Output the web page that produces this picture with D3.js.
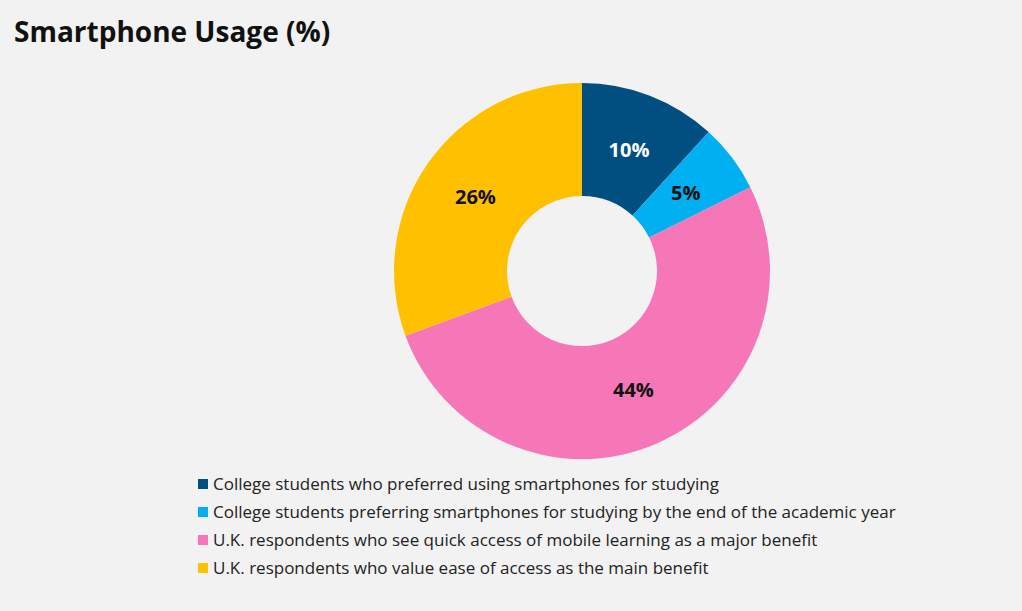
<!DOCTYPE html>
<html>
<head>
<meta charset="utf-8">
<script src="https://cdn.jsdelivr.net/npm/d3@7"></script>
<style>
  body { margin: 0; background: #f2f2f2; }
  text { font-family: "Open Sans", Lato, sans-serif; }
</style>
</head>
<body>
<div id="chart"></div>
<script>
var categories = [
  "College students who preferred using smartphones for studying",
  "College students preferring smartphones for studying by the end of the academic year",
  "U.K. respondents who see quick access of mobile learning as a major benefit",
  "U.K. respondents who value ease of access as the main benefit"
];
var values = [10, 5, 44, 26];
var colors = ["#004f80", "#00b0f0", "#f577b8", "#ffc000"];
var labelColors = ["#ffffff", "#111111", "#111111", "#111111"];

var width = 1022, height = 611;
var cx = 582, cy = 271, outerR = 188, innerR = 75, labelR = 130;

var svg = d3.select("#chart").append("svg")
    .attr("width", width).attr("height", height);

svg.append("rect").attr("width", width).attr("height", height).attr("fill", "#f2f2f2");

svg.append("text")
    .attr("x", 14).attr("y", 42)
    .attr("font-size", 28).attr("font-weight", "bold").attr("fill", "#111")
    .text("Smartphone Usage (%)");

var data = categories.map(function(c, i) { return { name: c, value: values[i], i: i }; });

var pie = d3.pie().sort(null).value(function(d) { return d.value; });
var arc = d3.arc().innerRadius(innerR).outerRadius(outerR);
var labelArc = d3.arc().innerRadius(labelR).outerRadius(labelR);

var g = svg.append("g").attr("transform", "translate(" + cx + "," + cy + ")");

var arcs = pie(data);

g.selectAll("path").data(arcs).enter().append("path")
    .attr("d", arc)
    .attr("fill", function(d) { return colors[d.data.i]; });

g.selectAll("text.lbl").data(arcs).enter().append("text")
    .attr("class", "lbl")
    .attr("transform", function(d) { return "translate(" + labelArc.centroid(d) + ")"; })
    .attr("text-anchor", "middle")
    .attr("dy", "0.35em")
    .attr("font-size", 20).attr("font-weight", "bold")
    .attr("fill", function(d) { return labelColors[d.data.i]; })
    .text(function(d) { return d.data.value + "%"; });

// legend
var legend = svg.append("g").attr("transform", "translate(198,484)");
var rows = legend.selectAll("g").data(data).enter().append("g")
    .attr("transform", function(d, i) { return "translate(0," + (i * 28) + ")"; });
rows.append("rect")
    .attr("x", 0).attr("y", -5).attr("width", 10).attr("height", 10)
    .attr("fill", function(d) { return colors[d.i]; });
rows.append("text")
    .attr("x", 15).attr("dy", "0.35em")
    .attr("font-size", 17).attr("fill", "#222")
    .text(function(d) { return d.name; });
</script>
</body>
</html>
